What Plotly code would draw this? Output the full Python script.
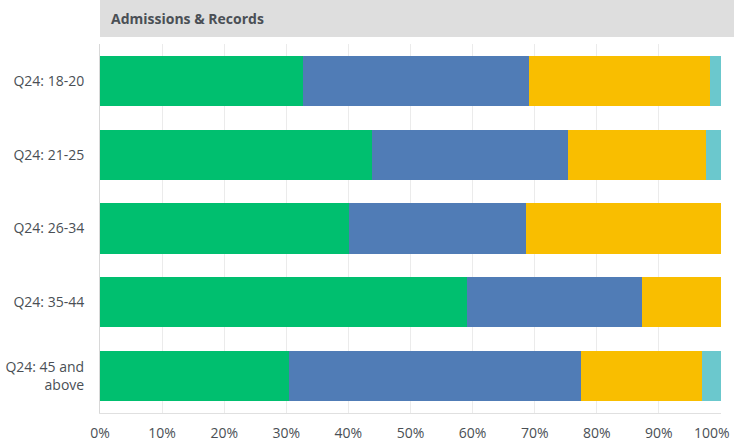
import plotly.graph_objects as go

# Catégories (de haut en bas)
categories = ['Q24: 18-20', 'Q24: 21-25', 'Q24: 26-34', 'Q24: 35-44', 'Q24: 45 and<br>above']

# Parts en %
serie_verte = [32.7, 43.8, 40.1, 59.1, 30.4]
serie_bleue = [36.4, 31.6, 28.5, 28.2, 47.1]
serie_jaune = [29.1, 22.2, 31.4, 12.7, 19.4]
serie_turquoise = [1.8, 2.4, 0.0, 0.0, 3.1]

tick_vals = [0, 10, 20, 30, 40, 50, 60, 70, 80, 90, 100]
tick_text = [f'{v}%' for v in tick_vals]
# le dernier libellé est posé à part (aligné à droite) pour rester dans la fenêtre
dernier_libelle = tick_text[-1]
tick_text[-1] = ''

couleurs = ['#00BF6F', '#507CB6', '#F9BE00', '#6BC8CD']
series = [serie_verte, serie_bleue, serie_jaune, serie_turquoise]

fig = go.Figure()
for valeurs, couleur in zip(series, couleurs):
    fig.add_trace(go.Bar(
        y=categories,
        x=valeurs,
        orientation='h',
        marker=dict(color=couleur, line=dict(width=0)),
        hoverinfo='x',
    ))

# Bandeau gris du titre
fig.add_shape(type='rect', xref='paper', yref='paper',
              x0=0, x1=1.03, y0=1.019, y1=1.13,
              fillcolor='#DEDEDE', line=dict(width=0), layer='below')
fig.add_annotation(text='<b>Admissions & Records</b>', xref='paper', yref='paper',
                   x=0.014, y=1.07, xanchor='left', yanchor='middle',
                   showarrow=False, font=dict(size=14, color='#4a4f55'))

# libellé 100 %
fig.add_annotation(text=dernier_libelle, xref='paper', yref='paper',
                   x=1.0185, y=-0.052, xanchor='right', yanchor='middle',
                   showarrow=False, font=dict(size=14, color='#4a4f55'))

fig.update_layout(
    barmode='stack',
    bargap=0.32,
    showlegend=False,
    width=734, height=445,
    margin=dict(l=100, r=13, t=44, b=32, autoexpand=False),
    plot_bgcolor='white',
    paper_bgcolor='white',
    font=dict(family='Open Sans, sans-serif', size=14, color='#4a4f55'),
    xaxis=dict(range=[0, 100], tickvals=tick_vals, ticktext=tick_text,
               showgrid=True, gridcolor='#EBEBEB', gridwidth=1,
               zeroline=False, showline=True, linecolor='#E0E0E0',
               mirror=False, ticks='', fixedrange=True, automargin=False,
               ticklabelstandoff=7),
    yaxis=dict(autorange='reversed', showgrid=False, zeroline=False,
               showline=True, linecolor='#D8D8D8', ticks='',
               ticklabelstandoff=12, fixedrange=True, automargin=False),
)

# marge du body à zéro pour que la figure occupe toute la fenêtre
fig.write_html("out.html", config={'displayModeBar': False},
               post_script="document.body.style.margin='0';")
